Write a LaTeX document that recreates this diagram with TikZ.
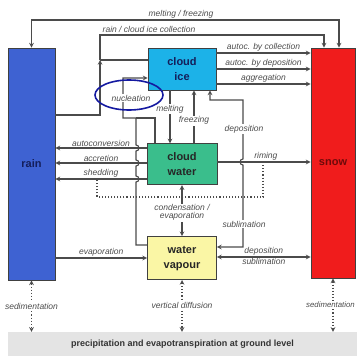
\documentclass[tikz,border=0pt]{standalone}
\usepackage{fontspec}
\setmainfont{Liberation Sans}
\usepackage{xcolor}
\usepackage{tikz}
\usetikzlibrary{arrows,positioning,calc}

\definecolor{rainblue}{RGB}{62,98,210}
\definecolor{snowred}{RGB}{240,28,28}
\definecolor{icecyan}{RGB}{28,178,232}
\definecolor{watergreen}{RGB}{58,190,140}
\definecolor{vapouryellow}{RGB}{250,246,165}
\definecolor{groundgray}{RGB}{228,228,228}
\definecolor{linegray}{RGB}{75,75,75}
\definecolor{ringblue}{RGB}{20,25,160}
\definecolor{rainink}{RGB}{20,30,90}
\definecolor{snowink}{RGB}{110,10,10}

\begin{document}
\begin{tikzpicture}[
    x=1pt, y=-1pt,
    box/.style={rectangle, draw=black!75, line width=0.8pt, align=center, font=\fontsize{11}{15}\selectfont\bfseries, text=black!85},
    arrow/.style={->, line width=1.1pt, draw=linegray, >=stealth},
    conn/.style={line width=1.1pt, draw=linegray},
    dotline/.style={dotted, line width=1.1pt, draw=linegray},
    dotarrow/.style={<->, dotted, line width=1.1pt, draw=linegray, >=stealth},
    lbl/.style={font=\fontsize{8.5}{8}\selectfont\itshape, text=black!70, inner sep=1pt, align=center}
]
\useasboundingbox (0,0) rectangle (357,356);

% Ground level
\node[rectangle, fill=groundgray, minimum width=349pt, minimum height=24pt, font=\fontsize{9}{11}\selectfont\bfseries, text=black!80] (ground) at (182.5,344) {precipitation and evapotranspiration at ground level};

% Hydrometeors
\node[box, fill=rainblue, minimum width=47pt, minimum height=232pt, text=rainink] (rain) at (31.5,164) {rain};
\node[box, fill=snowred, minimum width=44pt, minimum height=230pt, text=snowink] (snow) at (333,163) {snow};
\node[box, fill=icecyan, minimum width=68pt, minimum height=42pt, text=rainink] (ice) at (182,69) {cloud\\ice};
\node[box, fill=watergreen, minimum width=70pt, minimum height=41pt, below=53pt of ice] (water) {cloud\\water};
\node[box, fill=vapouryellow, minimum width=69pt, minimum height=43pt, below=51pt of water] (vapour) {water\\vapour};

% Outer loops
\draw[arrow, <->] (rain.north) |- (339,20) -- (snow.north -| 339,0);
\node[lbl] (lmeltfr) at (181,14) {melting / freezing};

\coordinate (join) at (100,60);
\draw[arrow] (rain.east |- 0,115) -| (join);
\draw[arrow] (join) |- (324,35) -- (snow.north -| 324,0);
\draw[conn] (ice.west |- join) -- (join);
\node[lbl] (lcoll) at (149,29) {rain / cloud ice collection};

% Cloud ice to snow
\draw[arrow] (ice.east |- 0,53) -- node[lbl, above] (lautcol) {autoc. by collection} (snow.west |- 0,53);
\draw[arrow] (ice.east |- 0,69) -- node[lbl, above] (lautdep) {autoc. by deposition} (snow.west |- 0,69);
\draw[arrow] (ice.east |- 0,84) -- node[lbl, above] (laggr) {aggregation} (snow.west |- 0,84);

% Cloud ice <-> cloud water
\draw[arrow] (ice.south -| 170,0) -- node[lbl, fill=white, pos=0.35] (lmelt) {melting} (water.north -| 170,0);
\draw[arrow] (water.north -| 194,0) -- node[lbl, fill=white, pos=0.43] (lfreeze) {freezing} (ice.south -| 194,0);

% Cloud ice <-> water vapour
\draw[arrow, <->] (vapour.east |- 0,247) -| (243,165) arc[start angle=270, end angle=90, radius=3pt] -- (243,100) -| (ice.south -| 210,0);
\node[lbl, fill=white] (ldep1) at (244,129) {deposition};
\node[lbl, fill=white] (lsub1) at (244,224) {sublimation};

% Riming and shedding
\draw[arrow] (water.east |- 0,162) -- node[lbl, above, pos=0.52] (lrime) {riming} (snow.west |- 0,162);
\coordinate (rimpt) at (263,162);
\coordinate (shedpt) at (97,179);
\draw[dotline] (rimpt) |- (shedpt |- 0,197) -- (shedpt);

% Cloud water to rain
\draw[arrow] (water.west |- 0,148) -- node[lbl, above] (lautoc) {autoconversion} (rain.east |- 0,148);
\draw[arrow] (water.west |- 0,163) -- node[lbl, above] (laccr) {accretion} (rain.east |- 0,163);
\draw[arrow] (water.west |- 0,179) -- node[lbl, above] (lshed) {shedding} (rain.east |- 0,179);

% Nucleation
\draw[arrow] (vapour.west |- 0,245) -| (136,182) arc[start angle=-90, end angle=90, radius=3pt] -- (136,166) arc[start angle=-90, end angle=90, radius=3pt] -- (136,151) arc[start angle=-90, end angle=90, radius=3pt] -- (136,118) -| (123,78) -- (ice.west |- 0,78);
\draw[conn] (water.north -| 155,0) |- (136,118);
\node[lbl, fill=white] (lnuc) at (131,98) {nucleation};
\draw[ringblue, line width=1.6pt] (129,95) ellipse [x radius=34pt, y radius=15pt];

% Water vapour exchanges
\draw[arrow, <->] (vapour.north) -- node[lbl, fill=white, pos=0.46] (lcond) {condensation /\\evaporation} (water.south);
\draw[arrow, <->] (vapour.east |- 0,257) -- node[lbl, above] (ldep2) {deposition} node[lbl, below] (lsub2) {sublimation} (snow.west |- 0,257);
\draw[arrow] (rain.east |- 0,258) -- node[lbl, above] (levap) {evaporation} (vapour.west |- 0,258);

% Fluxes to the ground
\draw[dotarrow] (rain.south) -- node[lbl, fill=white] (lsed1) {sedimentation} (rain.south |- ground.north);
\draw[dotarrow] (vapour.south) -- node[lbl, fill=white] (ldiff) {vertical diffusion} (vapour.south |- ground.north);
\draw[dotarrow] (snow.south) -- (snow.south |- ground.north);
\node[lbl, fill=white, font=\fontsize{7.8}{8}\selectfont\itshape] (lsed2) at (330.5,305) {sedimentation};

\end{tikzpicture}
\end{document}
